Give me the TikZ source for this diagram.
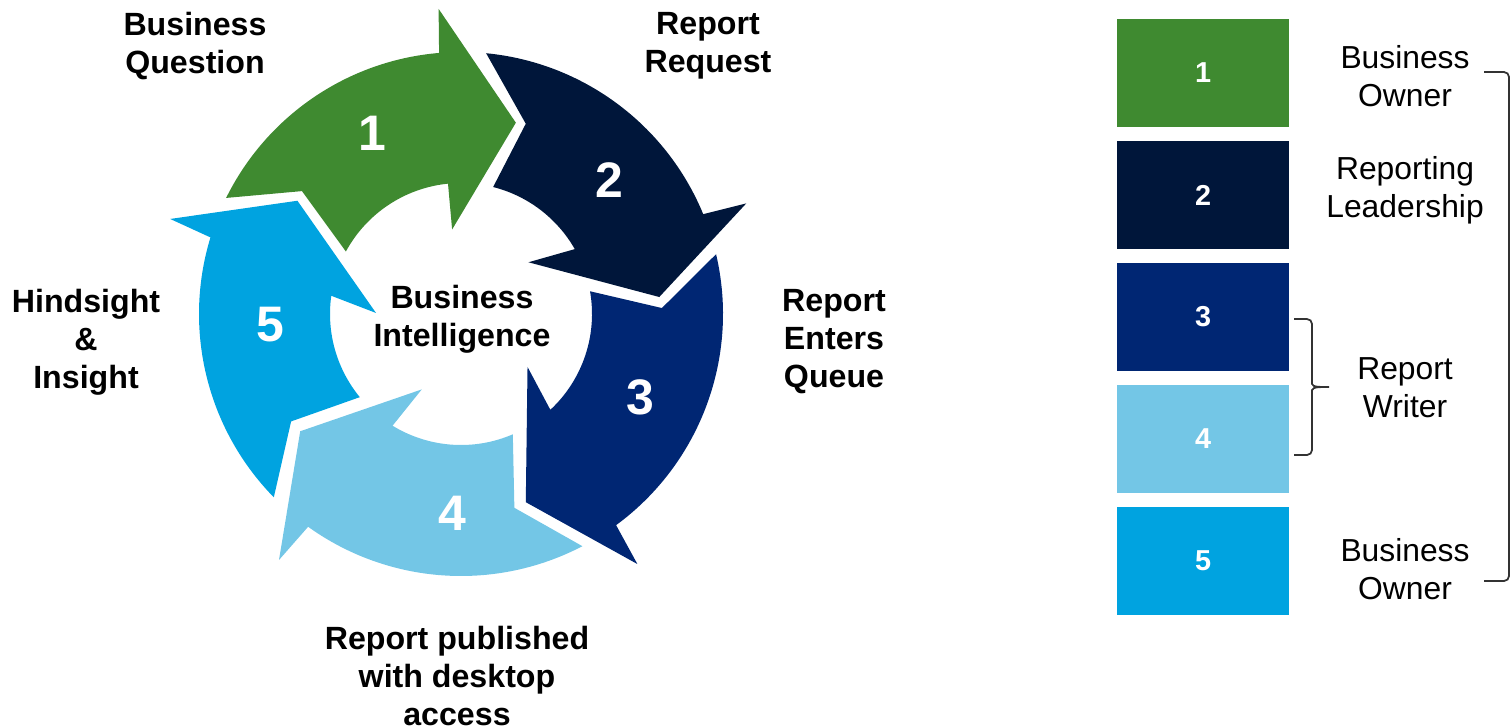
\documentclass[tikz,border=0pt]{standalone}
\usepackage{fontspec}
\setmainfont{Liberation Sans}
\usepackage{tikz}
\usetikzlibrary{positioning}

\definecolor{stepgreen} {HTML}{3F8A30}
\definecolor{stepnavy}  {HTML}{00163A}
\definecolor{stepblue}  {HTML}{002673}
\definecolor{steplight} {HTML}{73C6E6}
\definecolor{stepcyan}  {HTML}{00A3E0}
\definecolor{bracketcol}{HTML}{333333}

\tikzset{
  steplabel/.style={
    font=\bfseries\fontsize{9.15}{10.8}\selectfont,
    align=center, text=black, inner sep=0pt
  },
  stepnum/.style={
    font=\bfseries\fontsize{14.2}{16}\selectfont,
    text=white, inner sep=0pt
  },
  rolebox/.style={
    rectangle, minimum width=1.72cm, minimum height=1.075cm,
    inner sep=0pt, outer sep=0pt, fill=#1, text=white,
    font=\bfseries\fontsize{8.2}{10}\selectfont
  },
  rolelabel/.style={
    font=\fontsize{9.05}{10.8}\selectfont,
    align=center, inner sep=0pt
  },
  bracket/.style={draw=bracketcol, line width=0.5pt, rounded corners=0.05cm}
}

\begin{document}
\begin{tikzpicture}
  \useasboundingbox (0,0) rectangle (15.11,-7.27);

  \begin{scope}[shift={(4.61,-3.14)}]
    \foreach \col/\tout/\tnotch/\tin/\hin/\hbin/\htip/\hbout/\hout in {
        stepgreen/153.7/142.3/151.5/95.7/96/74/94.2/94.8,
        stepnavy/84.5/71.2/75.8/29.7/37.5/4.9/21.2/22.4,
        stepblue/13.2/1.7/10/-47/-38.5/-71/-54.8/-53.7,
        steplight/-62.4/-74.6/-66.7/-121.5/-117.5/-143.9/-126.5/-125.7,
        stepcyan/-135.6/-147.7/-140.6/-188/-180.7/-214.7/-198.1/-197}{
      \fill[fill=\col] (\tout:2.62) -- (\tnotch:2.01) -- (\tin:1.31)
        arc[start angle=\tin, end angle=\hin, radius=1.31]
        -- (\hbin:0.85) -- (\htip:1.99) -- (\hbout:3.06) -- (\hout:2.62)
        arc[start angle=\hout, end angle=\tout, radius=2.62] -- cycle;
    }
  \end{scope}

  \node[stepnum] (n1) at (3.72,-1.33) {1};
  \node[stepnum] (n2) at (6.09,-1.80) {2};
  \node[stepnum] (n3) at (6.40,-3.97) {3};
  \node[stepnum] (n4) at (4.52,-5.13) {4};
  \node[stepnum] (n5) at (2.70,-3.25) {5};

  \node[steplabel] (question)  at (1.95,-0.46) {Business\\Question};
  \node[steplabel] (request)   at (7.08,-0.46) {Report\\Request};
  \node[steplabel] (queue)     at (8.34,-3.42) {Report\\Enters\\Queue};
  \node[steplabel] (published) at (4.57,-6.76) {Report published\\with desktop\\access};
  \node[steplabel] (insight)   at (0.86,-3.42) {Hindsight\\\&\\Insight};
  \node[steplabel] (bi)        at (4.62,-3.19) {Business\\Intelligence};

  \node[rolebox=stepgreen] (box1) at (12.03,-0.73) {1};
  \node[rolebox=stepnavy,  below=0.145cm of box1] (box2) {2};
  \node[rolebox=stepblue,  below=0.145cm of box2] (box3) {3};
  \node[rolebox=steplight, below=0.145cm of box3] (box4) {4};
  \node[rolebox=stepcyan,  below=0.145cm of box4] (box5) {5};

  \node[rolelabel] (owner)  at (14.05,-0.76)  {Business\\Owner};
  \node[rolelabel] (leader) at (14.05,-1.90)  {Reporting\\Leadership};
  \node[rolelabel] (writer) at (14.05,-3.88) {Report\\Writer};
  \node[rolelabel] (owneb)  at (14.05,-5.69) {Business\\Owner};

  \coordinate (wtop) at (12.94,-3.19);
  \coordinate (wtip) at (13.32,-3.87);
  \coordinate (wbot) at (12.94,-4.55);
  \draw[bracket] (wtop) -- (13.12,-3.19) -- (13.12,-3.79)
    to[out=-90,in=180] (wtip) to[out=180,in=90] (13.12,-3.95)
    -- (13.12,-4.55) -- (wbot);

  \coordinate (otop) at (14.84,-0.72);
  \coordinate (obot) at (14.84,-5.81);
  \draw[bracket] (otop) -- (15.09,-0.72) -- (15.09,-5.81) -- (obot);
\end{tikzpicture}
\end{document}
